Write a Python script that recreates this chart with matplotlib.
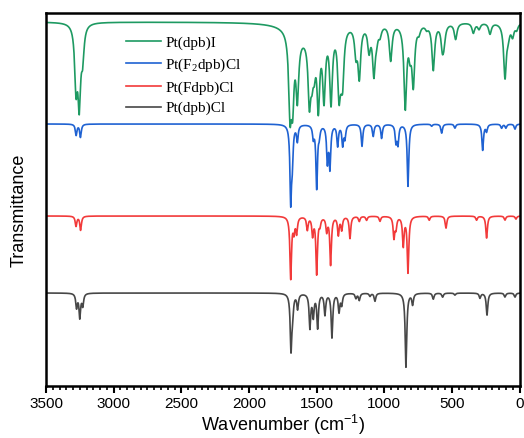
import numpy as np
import matplotlib
matplotlib.use("Agg")
import matplotlib.pyplot as plt
from matplotlib.ticker import MultipleLocator

# ---- data (peak positions in cm-1, peak depths in plot units) ----
labels = ["Pt(dpb)I", "Pt(F$\\mathregular{_2}$dpb)Cl", "Pt(Fdpb)Cl", "Pt(dpb)Cl"]
colors = ["#1e9a62", "#1f62d2", "#f23a3a", "#474747"]
baselines = [364, 262, 170, 93]
widths = [12, 7, 7, 7]

green_pos = [3278, 3254, 3229, 1696, 1677, 1642, 1553, 1534, 1517, 1487, 1445, 1393,
             1334, 1319, 1307, 1209, 1184, 1112, 1076, 1056, 1031, 952, 844, 809, 785,
             743, 686, 637, 570, 558, 472, 341, 299, 218, 107, 83, 51, 21, 1600]
green_dep = [60, 75, 30, 75, 62, 60, 62, 30, 26, 72, 66, 72,
             60, 20, 45, 26, 50, 24, 48, 10, 9, 36, 82, 22, 58,
             7, 4, 46, 22, 15, 16, 10, 6, 11, 54, 10, 12, 6, 12]
green_w = [12, 12, 12] + [12] * 35 + [120]

blue_pos = [3277, 3245, 1691, 1679, 1642, 1524, 1499, 1480, 1420, 1401, 1344, 1307,
            1290, 1164, 1081, 1019, 913, 898, 824, 649, 575, 477, 272, 243, 132, 100, 33]
blue_dep = [11, 13, 75, 30, 16, 12, 63, 9, 36, 42, 21, 20,
            13, 22, 12, 14, 17, 19, 62, 2, 9, 4, 26, 7, 4, 4, 5]

red_pos = [3278, 3244, 1691, 1667, 1647, 1568, 1529, 1499, 1475, 1425, 1396, 1339,
           1314, 1253, 1184, 1130, 1031, 928, 913, 859, 824, 667, 543, 317, 243, 107, 26]
red_dep = [10, 14, 62, 14, 16, 13, 18, 57, 7, 14, 48, 18,
           13, 22, 5, 4, 5, 21, 11, 29, 56, 4, 12, 4, 22, 4, 3]

gray_pos = [3274, 3250, 3228, 1689, 1677, 1640, 1549, 1524, 1492, 1438, 1386, 1334,
            1314, 1209, 1184, 1105, 1068, 839, 790, 637, 568, 477, 292, 240, 107, 33]
gray_dep = [14, 24, 12, 55, 18, 15, 34, 22, 34, 21, 44, 18,
            11, 5, 7, 3, 8, 74, 11, 6, 4, 2, 5, 22, 4, 4]

xticks = [3500, 3000, 2500, 2000, 1500, 1000, 500, 0]

# ---- build spectra ----
wn = np.arange(0, 3500.5, 0.5)


def spectrum(base, pos, dep, w):
    y = np.full_like(wn, float(base))
    if np.isscalar(w):
        w = [w] * len(pos)
    for p, d, ww in zip(pos, dep, w):
        y -= d * ww ** 2 / ((wn - p) ** 2 + ww ** 2)
    return y


series = [
    spectrum(baselines[0], green_pos, green_dep, green_w),
    spectrum(baselines[1], blue_pos, blue_dep, widths[1]),
    spectrum(baselines[2], red_pos, red_dep, widths[2]),
    spectrum(baselines[3], gray_pos, gray_dep, widths[3]),
]

# ---- figure ----
fig = plt.figure(figsize=(5.24, 4.38), dpi=100)
ax = fig.add_axes([46 / 524, 1 - 386 / 438, 473.5 / 524, 373 / 438])

for y, c, lab in zip(series, colors, labels):
    ax.plot(wn, y, color=c, lw=1.2, label=lab)

ax.set_xlim(3500, 0)
ax.set_ylim(0, 373)
ax.set_xticks(xticks)
ax.set_xticklabels([str(t) for t in xticks], family="Liberation Sans", fontsize=11)
ax.xaxis.set_minor_locator(MultipleLocator(50))
ax.tick_params(axis="x", which="major", direction="out", length=5, width=1.5, pad=3)
ax.tick_params(axis="x", which="minor", direction="out", length=3, width=1.2)
ax.set_yticks([])
for s in ax.spines.values():
    s.set_linewidth(1.8)

ax.set_xlabel("Wavenumber (cm$\\mathregular{^{-1}}$)", family="Liberation Sans",
              fontsize=13, labelpad=1)
ax.set_ylabel("Transmittance", family="Liberation Sans", fontsize=13)
ax.yaxis.set_label_coords(-0.038, 0.47)

leg = ax.legend(loc="upper left", bbox_to_anchor=(0.155, 0.955), frameon=False,
                prop={"family": "Liberation Serif", "size": 11},
                handlelength=2.3, handletextpad=0.3, labelspacing=0.45,
                borderaxespad=0)

fig.savefig("out.png", dpi=100)
